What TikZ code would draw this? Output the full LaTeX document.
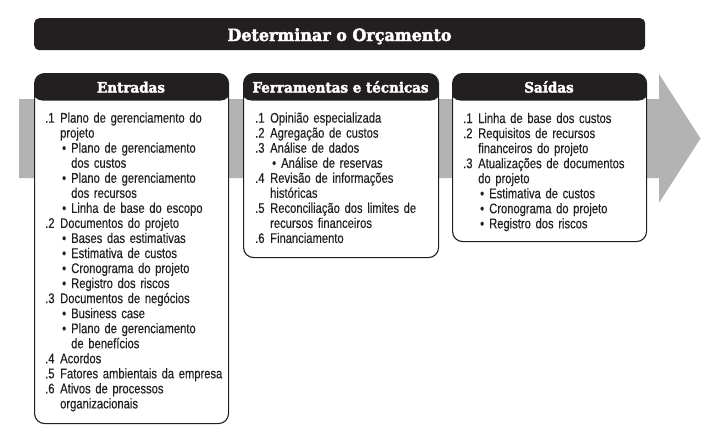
\documentclass[tikz,border=0pt]{standalone}
\usepackage{fontspec}
\setmainfont{Liberation Sans}[FakeStretch=0.8,FakeBold=0.3]
\newfontfamily\slabfont{DejaVu Serif}[FakeStretch=0.95,BoldFeatures={FakeBold=2.4}]
\definecolor{pmdark}{HTML}{231F20}
\definecolor{pmgray}{HTML}{B3B3B3}
\newcommand\nit[2]{\par\hangindent=15pt\hangafter=1\noindent\strut\makebox[15pt][l]{#1}#2}
\newcommand\bit[1]{\par\hangindent=26pt\hangafter=1\noindent\strut\hspace*{17pt}\makebox[9pt][l]{\textbullet}#1}
\tikzset{
  panel/.style={draw=pmdark, line width=1.1pt, fill=white, rounded corners=10pt,
    inner sep=0pt, anchor=north west,
    path picture={\fill[pmdark] ([yshift=2pt,xshift=-2pt]path picture bounding box.north west)
      rectangle ([yshift=-27pt,xshift=2pt]path picture bounding box.north east);}},
  titlebar/.style={fill=pmdark, rounded corners=5pt, inner sep=0pt, anchor=north west},
  headtext/.style={text=white, anchor=base, inner sep=0pt,
    font=\slabfont\bfseries\fontsize{14.2}{15}\selectfont},
  titletext/.style={text=white, anchor=base, inner sep=0pt,
    font=\slabfont\bfseries\fontsize{16.8}{19}\selectfont},
  listtext/.style={anchor=north west, inner sep=0pt, text width=190pt, align=left,
    font=\fontsize{14}{15.04}\selectfont, text=pmdark},
  band/.style={fill=pmgray}
}
\begin{document}
\begin{tikzpicture}[x=1pt,y=-1pt]
\useasboundingbox (0,0) rectangle (715,440);
% gray flow arrow
\fill[band] (19,99) -- (659,99) -- (659,74) -- (700.5,138.5) -- (659,203) -- (659,178) -- (19,178) -- cycle;
% title
\node[titlebar, minimum width=611pt, minimum height=32pt] (title) at (34,18) {};
\node[titletext] (titletxt) at (339.5,41) {Determinar o Orçamento};
% panels
\node[panel, minimum width=194pt, minimum height=350pt] (ent) at (34,73) {};
\node[panel, minimum width=195pt, minimum height=184pt] (fer) at (243,73) {};
\node[panel, minimum width=194pt, minimum height=168pt] (sai) at (452,73) {};
\node[headtext] (enth) at (131,92.5) {Entradas};
\node[headtext] (ferh) at (340.5,92.5) {Ferramentas e técnicas};
\node[headtext] (saih) at (549,92.5) {Saídas};
% lists
\node[listtext] (entl) at (45,107.4) {%
\nit{.1}{Plano de gerenciamento do\newline projeto}
\bit{Plano de gerenciamento\newline dos custos}
\bit{Plano de gerenciamento\newline dos recursos}
\bit{Linha de base do escopo}
\nit{.2}{Documentos do projeto}
\bit{Bases das estimativas}
\bit{Estimativa de custos}
\bit{Cronograma do projeto}
\bit{Registro dos riscos}
\nit{.3}{Documentos de negócios}
\bit{Business case}
\bit{Plano de gerenciamento\newline de benefícios}
\nit{.4}{Acordos}
\nit{.5}{Fatores ambientais da empresa}
\nit{.6}{Ativos de processos\newline organizacionais}\par};
\node[listtext] (ferl) at (255,107.4) {%
\nit{.1}{Opinião especializada}
\nit{.2}{Agregação de custos}
\nit{.3}{Análise de dados}
\bit{Análise de reservas}
\nit{.4}{Revisão de informações\newline históricas}
\nit{.5}{Reconciliação dos limites de\newline recursos financeiros}
\nit{.6}{Financiamento}\par};
\node[listtext] (sail) at (463,107.8) {%
\nit{.1}{Linha de base dos custos}
\nit{.2}{Requisitos de recursos\newline financeiros do projeto}
\nit{.3}{Atualizações de documentos\newline do projeto}
\bit{Estimativa de custos}
\bit{Cronograma do projeto}
\bit{Registro dos riscos}\par};
\end{tikzpicture}
\end{document}
